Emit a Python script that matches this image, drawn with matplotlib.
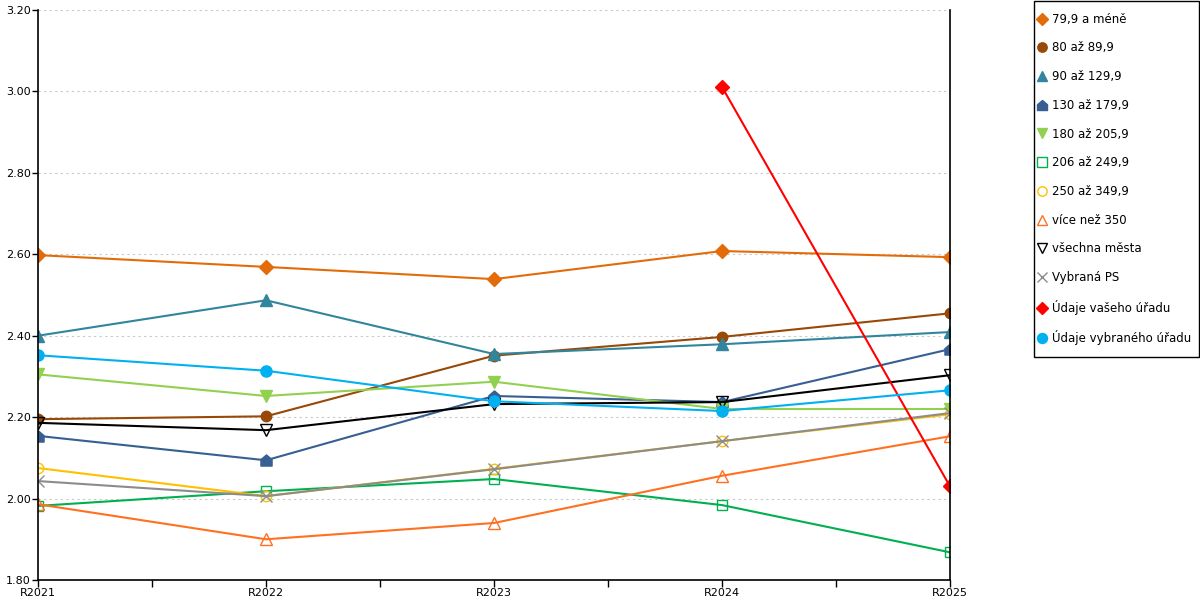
import numpy as np
import matplotlib
matplotlib.use("Agg")
import matplotlib.pyplot as plt
from matplotlib.lines import Line2D
from matplotlib.path import Path
from matplotlib.patches import Rectangle
from matplotlib.ticker import FormatStrFormatter, MultipleLocator

plt.rcParams['font.family'] = ['DejaVu Sans']

years = ['R2021', 'R2022', 'R2023', 'R2024', 'R2025']

# values
s_79 = [2.598, 2.569, 2.539, 2.608, 2.593]
s_80 = [2.195, 2.202, 2.351, 2.397, 2.455]
s_90 = [2.400, 2.487, 2.355, 2.379, 2.409]
s_130 = [2.154, 2.094, 2.252, 2.237, 2.367]
s_180 = [2.305, 2.252, 2.287, 2.220, 2.220]
s_206 = [1.982, 2.018, 2.048, 1.984, 1.868]
s_250 = [2.075, 2.006, 2.073, 2.141, 2.207]
s_350 = [1.986, 1.900, 1.940, 2.056, 2.153]
s_all = [2.186, 2.168, 2.232, 2.237, 2.303]
s_ps = [2.043, 2.006, 2.072, 2.141, 2.210]
s_vas = [np.nan, np.nan, np.nan, 3.011, 2.030]
s_vyb = [2.352, 2.314, 2.239, 2.215, 2.266]

labels = ['79,9 a méně', '80 až 89,9', '90 až 129,9', '130 až 179,9',
          '180 až 205,9', '206 až 249,9', '250 až 349,9', 'více než 350',
          'všechna města', 'Vybraná PS', 'Údaje vašeho úřadu',
          'Údaje vybraného úřadu']
series = [s_79, s_80, s_90, s_130, s_180, s_206, s_250, s_350,
          s_all, s_ps, s_vas, s_vyb]

# "house" shaped marker for the 130-179,9 series
house = Path([(-1, -1), (1, -1), (1, 0.15), (0, 1), (-1, 0.15), (-1, -1)],
             [Path.MOVETO] + [Path.LINETO] * 4 + [Path.CLOSEPOLY])

colors = ['#E36C09', '#984807', '#31859C', '#375F92', '#92D050', '#00B050',
          '#FFC000', '#FF7020', '#000000', '#8C8C8C', '#FF0000', '#00B0F0']
markers = ['D', 'o', '^', house, 'v', 's', 'o', '^', 'v', 'x', 'D', 'o']
filled = [True, True, True, True, True, False, False, False, False, True, True, True]
msizes = [7, 7.5, 8, 8, 8, 7.5, 7.5, 8.5, 8.5, 8, 7, 8]

fig = plt.figure(figsize=(12, 6), dpi=100)
ax = fig.add_axes([38 / 1200, 20 / 600, 912 / 1200, 570 / 600])

x = np.arange(len(years))
handles = []
for vals, lab, c, m, f, ms in zip(series, labels, colors, markers, filled, msizes):
    fc = c if f else 'none'
    ax.plot(x, vals, color=c, lw=1.5, marker=m, ms=ms,
            markerfacecolor=fc, markeredgecolor=c, markeredgewidth=1.0)
    handles.append(Line2D([], [], ls='none', marker=m, ms=ms * 0.9, color=c,
                          markerfacecolor=fc, markeredgecolor=c, markeredgewidth=1.0))

ax.set_xlim(0, 4)
ax.set_ylim(1.8, 3.2)
ax.set_xticks(x)
ax.set_xticklabels(years)
ax.xaxis.set_minor_locator(MultipleLocator(0.5))
ax.yaxis.set_major_locator(MultipleLocator(0.2))
ax.yaxis.set_major_formatter(FormatStrFormatter('%.2f'))
ax.tick_params(axis='both', direction='out', length=5, width=1, labelsize=8, pad=1)
ax.tick_params(axis='x', which='minor', direction='out', length=5, width=1)
ax.tick_params(axis='y', length=4)
ax.grid(axis='y', ls=(0, (2, 3)), color='#C8C8C8', lw=0.8)
ax.set_axisbelow(True)
ax.spines['top'].set_visible(False)
for sp in ['left', 'bottom', 'right']:
    ax.spines[sp].set_linewidth(1.2)
    ax.spines[sp].set_color('black')

# legend box drawn separately so the padding matches
fig.patches.append(Rectangle((1034 / 1200, 243 / 600), 165 / 1200, 356 / 600,
                             transform=fig.transFigure, fill=False,
                             edgecolor='black', lw=1.0))
leg = fig.legend(handles, labels, loc='upper left',
                 bbox_to_anchor=(1035 / 1200, 1 - 11 / 600), fontsize=8.5,
                 frameon=False, handletextpad=0.35, handlelength=0.9,
                 labelspacing=1.33, borderpad=0.15, borderaxespad=0)

fig.savefig('out.png', dpi=100)
